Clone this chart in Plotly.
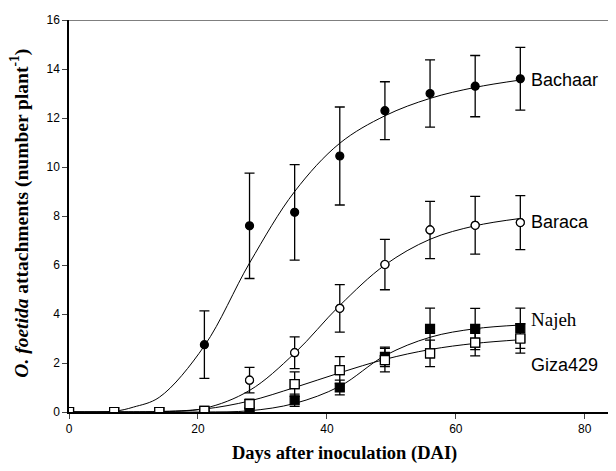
import plotly.graph_objects as go

days = [0, 7, 14, 21, 28, 35, 42, 49, 56, 63, 70]

bachaar = [0, 0, 0, 2.75, 7.6, 8.15, 10.45, 12.3, 13.0, 13.3, 13.6]
bachaar_err = [0, 0, 0, 1.38, 2.15, 1.95, 2.0, 1.18, 1.37, 1.25, 1.28]
baraca = [0, 0, 0, 0.05, 1.3, 2.42, 4.23, 6.02, 7.43, 7.62, 7.73]
baraca_err = [0, 0, 0, 0, 0.52, 0.65, 0.97, 1.03, 1.17, 1.18, 1.1]
najeh = [0, 0, 0, 0, 0, 0.48, 1.0, 2.25, 3.39, 3.39, 3.42]
najeh_err = [0, 0, 0, 0, 0, 0.25, 0.3, 0.4, 0.85, 0.84, 0.82]
giza = [0, 0, 0, 0.05, 0.32, 1.14, 1.71, 2.12, 2.39, 2.83, 3.0]
giza_err = [0, 0, 0, 0, 0.2, 0.5, 0.55, 0.48, 0.54, 0.54, 0.6]

curve_days = [0, 7, 10, 14, 21, 28, 35, 42, 49, 56, 63, 70]
bachaar_fit = [0, 0.03, 0.2, 0.6, 2.7, 6.08, 9.0, 10.97, 12.09, 12.8, 13.25, 13.55]
baraca_fit = [0, 0, 0, 0.01, 0.15, 0.88, 2.4, 4.35, 6.0, 7.05, 7.6, 7.9]
najeh_fit = [0, 0, 0, 0, 0.0, 0.05, 0.35, 1.05, 2.3, 3.05, 3.4, 3.55]
giza_fit = [0, 0, 0, 0.02, 0.12, 0.45, 1.0, 1.6, 2.15, 2.55, 2.8, 2.95]

labels = ["Bachaar", "Baraca", "Najeh", "Giza429"]
label_y = [13.55, 7.75, 3.77, 1.9]

x_ticks = [0, 20, 40, 60, 80]
y_ticks = [0, 2, 4, 6, 8, 10, 12, 14, 16]

fig = go.Figure()

for fit in [bachaar_fit, baraca_fit, najeh_fit, giza_fit]:
    fig.add_trace(go.Scatter(x=curve_days, y=fit, mode="lines",
                             line=dict(color="black", width=1, shape="spline", smoothing=1.0),
                             showlegend=False, hoverinfo="skip"))

series = [
    (bachaar, bachaar_err, "circle"),
    (baraca, baraca_err, "circle-open"),
    (najeh, najeh_err, "square"),
    (giza, giza_err, "square-open"),
]
for vals, err, sym in series:
    fig.add_trace(go.Scatter(
        x=days, y=vals, mode="markers",
        marker=dict(symbol=sym, size=8 if "circle" in sym else 9, color="black",
                    line=dict(color="black", width=1.2)),
        error_y=dict(type="data", array=err, visible=True, color="black",
                     thickness=1.3, width=5),
        showlegend=False))

# white fill for open markers
for vals, sym in [(baraca, "circle"), (giza, "square")]:
    fig.add_trace(go.Scatter(x=days, y=vals, mode="markers",
                             marker=dict(symbol=sym, size=8 if sym == "circle" else 9, color="white",
                                         line=dict(color="black", width=1.2)),
                             showlegend=False))

fonts = ["Liberation Sans", "Liberation Sans", "Liberation Serif", "Liberation Sans"]
sizes = [18, 18, 19, 18]
for lab, ly, fnt, sz in zip(labels, label_y, fonts, sizes):
    fig.add_annotation(x=71.3, y=ly, text=lab, showarrow=False, xanchor="left",
                       yanchor="middle", font=dict(family=fnt, size=sz, color="black"))

fig.add_annotation(xref="paper", yref="paper", x=-0.0909, y=0.506,
                   text="<b><i>O. foetida</i> attachments (number plant<sup>-1</sup>)</b>",
                   textangle=-90, showarrow=False, xanchor="center", yanchor="middle",
                   font=dict(family="Liberation Serif", size=19.5, color="black"))

fig.add_annotation(xref="paper", yref="paper", x=0.511, y=-0.107,
                   text="<b>Days after inoculation (DAI)</b>",
                   showarrow=False, xanchor="center", yanchor="middle",
                   font=dict(family="Liberation Serif", size=18.5, color="black"))

fig.add_shape(type="line", xref="paper", yref="y", x0=0, x1=1, y0=16, y1=16,
              line=dict(color="#555", width=1.5))

fig.update_layout(
    width=600, height=455,
    margin=dict(l=61, r=0, t=12, b=51),
    plot_bgcolor="white", paper_bgcolor="white",
    font=dict(family="Liberation Sans", size=12, color="black"),
    xaxis=dict(range=[0, 83.6], tickvals=x_ticks, ticks="outside", ticklen=5,
               showline=True, linecolor="black", linewidth=1.5, showgrid=False,
               zeroline=False),
    yaxis=dict(range=[0, 16], tickvals=y_ticks, ticks="outside", ticklen=5,
               showline=True, linecolor="black", linewidth=1.5, showgrid=False,
               zeroline=False),
)

fig.write_html("out.html")
